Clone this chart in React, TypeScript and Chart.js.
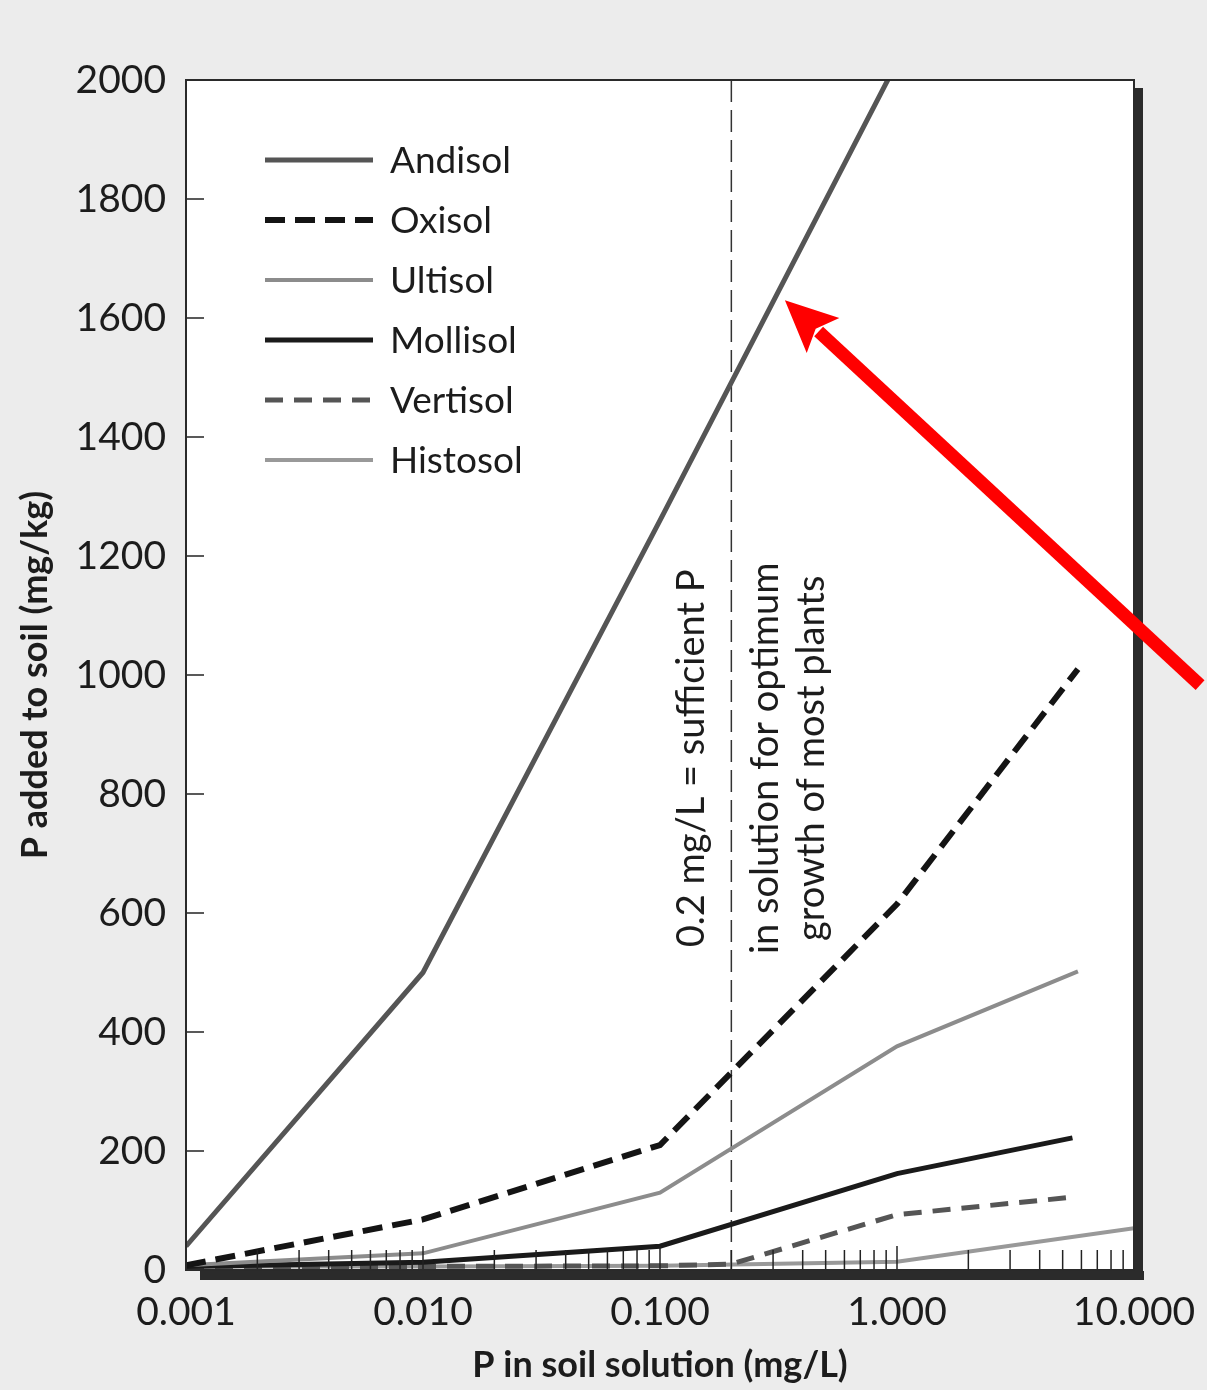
import React, { useEffect, useRef } from 'react';
import { Chart, registerables } from 'chart.js';

Chart.register(...registerables);

// ---- data ----
const xTickValues = [0.001, 0.01, 0.1, 1, 10];
const xTickLabels = ['0.001', '0.010', '0.100', '1.000', '10.000'];
const yTickValues = [0, 200, 400, 600, 800, 1000, 1200, 1400, 1600, 1800, 2000];

const seriesNames = ['Andisol', 'Oxisol', 'Ultisol', 'Mollisol', 'Vertisol', 'Histosol'];

const andisolX = [0.001, 0.01, 0.1, 1];
const andisolY = [40, 500, 1260, 2030];
const oxisolX = [0.001, 0.01, 0.1, 1, 5.8];
const oxisolY = [8, 85, 210, 615, 1010];
const ultisolX = [0.001, 0.01, 0.1, 1, 5.8];
const ultisolY = [8, 28, 130, 376, 502];
const mollisolX = [0.001, 0.01, 0.1, 1, 5.5];
const mollisolY = [6, 13, 40, 162, 222];
const vertisolX = [0.001, 0.01, 0.1, 0.2, 1, 5.7];
const vertisolY = [6, 6, 7, 10, 93, 123];
const histosolX = [0.001, 0.01, 0.1, 1, 10];
const histosolY = [6, 6, 7, 14, 70];

const thresholdX = 0.2;
const noteLines = ['0.2 mg/L = sufficient P', 'in solution for optimum', 'growth of most plants'];
const noteCenterY = 860;
const arrowTail = { x: 19, y: 983 };
const arrowTip = { x: 0.3365, y: 1630 };

const xTitle = 'P in soil solution (mg/L)';
const yTitle = 'P added to soil (mg/kg)';

// ---- styles ----
const FONT = 'Lato, "Open Sans", sans-serif';
const TEXT = '#1c1c1c';
const styles = [
  { color: '#555555', width: 5, dash: [] as number[] },
  { color: '#141414', width: 6, dash: [20, 10] },
  { color: '#8c8c8c', width: 4, dash: [] as number[] },
  { color: '#1a1a1a', width: 5, dash: [] as number[] },
  { color: '#555555', width: 5, dash: [18, 11] },
  { color: '#999999', width: 4, dash: [] as number[] },
];

const zip = (xs: number[], ys: number[]) => xs.map((x, i) => ({ x, y: ys[i] }));
const seriesData = [
  zip(andisolX, andisolY),
  zip(oxisolX, oxisolY),
  zip(ultisolX, ultisolY),
  zip(mollisolX, mollisolY),
  zip(vertisolX, vertisolY),
  zip(histosolX, histosolY),
];

const decorPlugin = {
  id: 'decor',
  beforeDatasetsDraw(chart: any) {
    const { ctx, chartArea: a, scales } = chart;
    const xs = scales.x;
    ctx.save();
    ctx.fillStyle = '#ffffff';
    ctx.fillRect(a.left, a.top, a.right - a.left, a.bottom - a.top);
    const tx = xs.getPixelForValue(thresholdX);
    ctx.strokeStyle = '#333';
    ctx.lineWidth = 1.5;
    ctx.setLineDash([22, 8]);
    ctx.beginPath();
    ctx.moveTo(tx, a.top);
    ctx.lineTo(tx, a.bottom);
    ctx.stroke();
    ctx.restore();
  },
  afterDatasetsDraw(chart: any) {
    const { ctx, chartArea: a, scales } = chart;
    const xs = scales.x;
    const ys = scales.y;
    ctx.save();
    ctx.strokeStyle = '#222';
    ctx.lineWidth = 1.5;
    ctx.setLineDash([]);
    for (let d = 0; d < xTickValues.length; d++) {
      const base = xTickValues[d];
      const maxK = d === xTickValues.length - 1 ? 1 : 9;
      for (let k = 1; k <= maxK; k++) {
        const px = xs.getPixelForValue(base * k);
        ctx.beginPath();
        ctx.moveTo(px, a.bottom);
        ctx.lineTo(px, a.bottom - (k === 1 ? 24 : 20));
        ctx.stroke();
      }
    }
    for (const v of yTickValues) {
      const py = ys.getPixelForValue(v);
      ctx.beginPath();
      ctx.moveTo(a.left, py);
      ctx.lineTo(a.left + 18, py);
      ctx.stroke();
    }
    ctx.strokeStyle = '#2a2a2a';
    ctx.lineWidth = 2;
    ctx.strokeRect(a.left, a.top, a.right - a.left, a.bottom - a.top);
    ctx.fillStyle = '#2b2b2b';
    ctx.fillRect(a.right + 1, a.top + 8, 8, a.bottom - a.top + 2);
    ctx.fillRect(a.left + 14, a.bottom + 1, a.right - a.left - 4, 9);

    const tx = xs.getPixelForValue(thresholdX);
    const cy = ys.getPixelForValue(noteCenterY);
    const offs = [-40, 34, 80];
    ctx.fillStyle = TEXT;
    ctx.font = `38px ${FONT}`;
    ctx.textAlign = 'center';
    ctx.textBaseline = 'middle';
    noteLines.forEach((t, i) => {
      ctx.save();
      ctx.translate(tx + offs[i], cy);
      ctx.rotate(-Math.PI / 2);
      ctx.fillText(t, 0, 0);
      ctx.restore();
    });

    ctx.font = `37px ${FONT}`;
    ctx.textAlign = 'left';
    chart.data.datasets.forEach((ds: any, i: number) => {
      const y = a.top + 80 + i * 60;
      ctx.strokeStyle = ds.borderColor;
      ctx.lineWidth = ds.borderWidth;
      ctx.setLineDash(ds.borderDash || []);
      ctx.beginPath();
      ctx.moveTo(a.left + 79, y);
      ctx.lineTo(a.left + 187, y);
      ctx.stroke();
      ctx.setLineDash([]);
      ctx.fillStyle = TEXT;
      ctx.fillText(ds.label, a.left + 204, y + 1);
    });

    const x0 = xs.getPixelForValue(arrowTail.x);
    const y0 = ys.getPixelForValue(arrowTail.y);
    const x1 = xs.getPixelForValue(arrowTip.x);
    const y1 = ys.getPixelForValue(arrowTip.y);
    const ang = Math.atan2(y1 - y0, x1 - x0);
    const headLen = 52;
    const headHalf = 24;
    const bx = x1 - headLen * Math.cos(ang);
    const by = y1 - headLen * Math.sin(ang);
    ctx.strokeStyle = '#ff0000';
    ctx.fillStyle = '#ff0000';
    ctx.lineWidth = 13;
    ctx.beginPath();
    ctx.moveTo(x0, y0);
    ctx.lineTo(bx + 6 * Math.cos(ang), by + 6 * Math.sin(ang));
    ctx.stroke();
    ctx.beginPath();
    ctx.moveTo(x1, y1);
    ctx.lineTo(bx + headHalf * Math.sin(ang), by - headHalf * Math.cos(ang));
    ctx.lineTo(bx + 10 * Math.cos(ang), by + 10 * Math.sin(ang));
    ctx.lineTo(bx - headHalf * Math.sin(ang), by + headHalf * Math.cos(ang));
    ctx.closePath();
    ctx.fill();
    ctx.restore();
  },
};

export default function App() {
  const ref = useRef<HTMLCanvasElement | null>(null);
  useEffect(() => {
    if (!ref.current) return;
    const chart = new Chart(ref.current, {
      type: 'line',
      data: {
        datasets: seriesNames.map((name, i) => ({
          label: name,
          data: seriesData[i],
          borderColor: styles[i].color,
          borderWidth: styles[i].width,
          borderDash: styles[i].dash,
          pointRadius: 0,
          tension: 0,
          fill: false,
        })),
      },
      options: {
        responsive: false,
        animation: false,
        layout: { padding: { top: 80, right: 73, left: 0, bottom: 0 } },
        plugins: { legend: { display: false }, tooltip: { enabled: false } },
        scales: {
          x: {
            type: 'logarithmic',
            min: 0.001,
            max: 10,
            grid: { display: false, drawTicks: false },
            border: { display: false },
            afterBuildTicks: (s: any) => {
              s.ticks = xTickValues.map((v) => ({ value: v, major: true }));
            },
            afterFit: (s: any) => {
              s.height = 120;
              s.paddingLeft = 0;
              s.paddingRight = 0;
            },
            ticks: {
              autoSkip: false,
              maxRotation: 0,
              padding: 19,
              color: TEXT,
              font: { family: FONT, size: 39 },
              callback: (v: any) => {
                const idx = xTickValues.findIndex((t) => Math.abs(t - Number(v)) < 1e-9);
                return idx >= 0 ? xTickLabels[idx] : '';
              },
            },
            title: {
              display: true,
              text: xTitle,
              color: TEXT,
              font: { family: FONT, size: 36, weight: 'bold' },
              padding: { top: 0, bottom: 3 },
            },
          },
          y: {
            type: 'linear',
            min: 0,
            max: 2000,
            grid: { display: false, drawTicks: false },
            border: { display: false },
            afterBuildTicks: (s: any) => {
              s.ticks = yTickValues.map((v) => ({ value: v }));
            },
            afterFit: (s: any) => {
              s.width = 186;
              s.paddingTop = 0;
              s.paddingBottom = 0;
            },
            ticks: {
              padding: 20,
              color: TEXT,
              font: { family: FONT, size: 39 },
              callback: (v: any) => String(v),
            },
            title: {
              display: true,
              text: yTitle,
              color: TEXT,
              font: { family: FONT, size: 36, weight: 'bold' },
              padding: { top: 14, bottom: 0 },
            },
          },
        },
      },
      plugins: [decorPlugin],
    } as any);
    return () => chart.destroy();
  }, []);
  return (
    <div style={{ position: 'absolute', left: 0, top: 0, width: 1207, height: 1390, background: '#ececec' }}>
      <canvas ref={ref} width={1207} height={1390} style={{ display: 'block' }} />
    </div>
  );
}
